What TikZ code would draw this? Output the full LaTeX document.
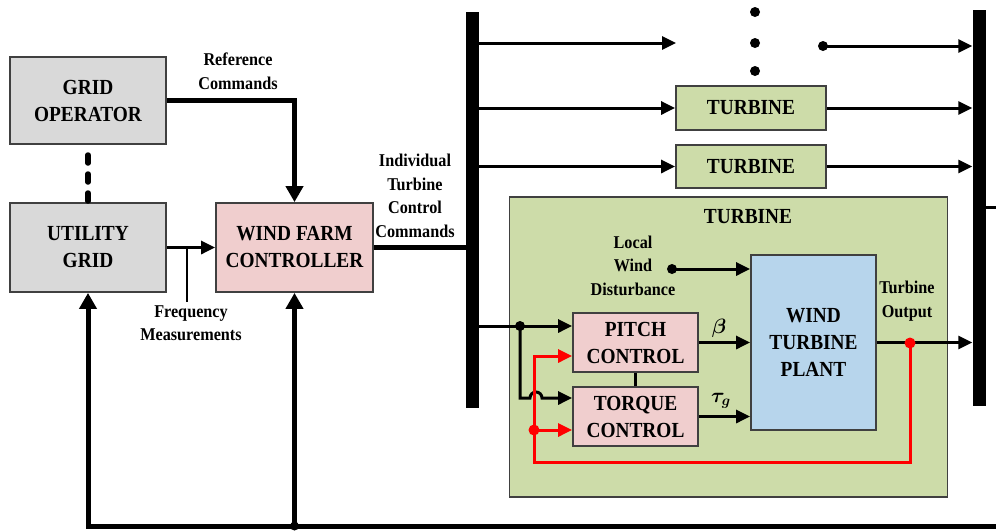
\documentclass[tikz,border=0pt]{standalone}
\usepackage{fontspec}
\setmainfont[FakeStretch=0.9]{Liberation Serif}
\usetikzlibrary{arrows.meta}

\definecolor{gridgray}{RGB}{217,217,217}
\definecolor{ctrlpink}{RGB}{240,206,206}
\definecolor{turbgreen}{RGB}{205,220,169}
\definecolor{plantblue}{RGB}{183,213,236}
\definecolor{fbred}{RGB}{255,0,0}

\begin{document}
\begin{tikzpicture}[x=1pt,y=-1pt,>={Triangle[length=14pt,width=13pt]}]
    \tikzstyle{block}=[draw=black!75,line width=1.8pt,align=center,inner sep=0pt,
        font=\bfseries\fontsize{21.5}{27}\selectfont]
    \tikzstyle{note}=[align=center,inner sep=0pt,font=\bfseries\fontsize{18}{23.5}\selectfont]
    \tikzstyle{sig}=[line width=3pt,->]
    \tikzstyle{bigsig}=[line width=5pt,-{Triangle[length=16pt,width=17pt]}]
    \tikzstyle{redsig}=[fbred,line width=3pt,->]
    \tikzstyle{bus}=[fill=black,inner sep=0pt,minimum width=13pt,minimum height=396pt]

    \useasboundingbox (0,0) rectangle (996,531);

    % grid side
    \node[block,fill=gridgray,minimum width=156pt,minimum height=87pt] (gridop) at (88,100.5) {GRID\\OPERATOR};
    \node[block,fill=gridgray,minimum width=156pt,minimum height=89pt] (utility) at (88,247.5) {UTILITY\\GRID};
    \node[block,fill=ctrlpink,minimum width=157pt,minimum height=89pt] (wfc) at (294.5,247.5) {WIND FARM\\CONTROLLER};

    % the two buses
    \node[bus] (busL) at (472.5,210) {};
    \node[bus] (busR) at (979,207.5) {};

    % whole turbine
    \node[block,fill=turbgreen,minimum width=438pt,minimum height=300pt] (turb) at (728.5,347) {};
    \node[block,draw=none] (turbtitle) at (748,217) {TURBINE};
    \node[block,fill=turbgreen,minimum width=150pt,minimum height=44pt] (t1) at (751,108) {TURBINE};
    \node[block,fill=turbgreen,minimum width=150pt,minimum height=43pt] (t2) at (751,166.5) {TURBINE};

    \node[block,fill=plantblue,minimum width=125pt,minimum height=175pt] (plant) at (813.5,342.5) {WIND\\TURBINE\\PLANT};
    \node[block,fill=ctrlpink,minimum width=125pt,minimum height=59pt] (pitch) at (635.5,342.5) {PITCH\\CONTROL};
    \node[block,fill=ctrlpink,minimum width=125pt,minimum height=59pt] (torque) at (635.5,416.5) {TORQUE\\CONTROL};

    % labels
    \node[note] (refcmd) at (238,71) {Reference\\Commands};
    \node[note] (freq) at (191,323) {Frequency\\Measurements};
    \node[note] (indiv) at (415,196) {Individual\\Turbine\\Control\\Commands};
    \node[note] (wind) at (633,265.5) {Local\\Wind\\Disturbance};
    \node[note] (tout) at (907,301) {Turbine\\Output};
    \node[font=\fontsize{21}{23}\selectfont\boldmath] (beta) at (719,328) {$\beta$};
    \node[font=\fontsize{21}{23}\selectfont\boldmath] (tau) at (721,401) {$\tau_g$};

    \coordinate (ftap) at (187,302);
    \coordinate (dtop) at (88,155);
    \coordinate (fbR) at (996,526);
    \coordinate (busout) at (996,207);
    \coordinate (gapL) at (676,43);
    \coordinate (gapR) at (823,46);
    \coordinate (wdot) at (672,269);
    \coordinate (split) at (520,326);
    \coordinate (tqin) at (520,398);
    \coordinate (hop) at (530,398);
    \coordinate (fbdot) at (910,343);
    \coordinate (rcorner) at (534,462);
    \coordinate (rpitch) at (534,356);
    \coordinate (rdot) at (534,430);

    % farm level signals
    \draw[bigsig] (gridop.east) -| (wfc.north);
    \draw[sig] (utility.east) -- (wfc.west);
    \draw[line width=1.5pt] (utility.east -| ftap) -- (ftap);
    \draw[line width=5.5pt,line cap=round,dash pattern=on 8pt off 11pt] (dtop) -- (utility.north);
    \draw[line width=5pt] (wfc.east) -- (wfc.east -| busL.west);
    \draw[bigsig] (fbR) -| (utility.south);
    \draw[bigsig] (wfc.south |- fbR) -- (wfc.south);
    \fill (wfc.south |- fbR) circle (4.5pt);
    \draw[line width=3pt] (busR.east |- busout) -- (busout);

    % turbine rows
    \draw[sig] (busL.east |- gapL) -- (gapL);
    \foreach \y in {12,43,71}
        \fill (755,\y) circle (5pt);
    \fill (gapR) circle (5pt);
    \draw[sig] (gapR) -- (gapR -| busR.west);
    \foreach \t in {t1,t2} {
        \draw[sig] (busL.east |- \t.west) -- (\t.west);
        \draw[sig] (\t.east) -- (\t.east -| busR.west);
    }

    % inside the turbine
    \fill (wdot) circle (5pt);
    \draw[sig] (wdot) -- (wdot -| plant.west);
    \draw[sig] (busL.east |- split) -- (split -| pitch.west);
    \fill (split) circle (5pt);
    \draw[sig] (split) -- (tqin) -- (hop) arc[start angle=180,end angle=360,radius=6] -- (hop -| torque.west);
    \draw[line width=2.5pt] (pitch.south) -- (torque.north);
    \draw[sig] (pitch.east) -- (pitch.east -| plant.west);
    \draw[sig] (torque.east) -- (torque.east -| plant.west);
    \draw[sig] (plant.east) -- (plant.east -| busR.west);

    % feedback
    \draw[redsig] (fbdot) |- (rcorner) -- (rpitch) -- (rpitch -| pitch.west);
    \draw[redsig] (rdot) -- (rdot -| torque.west);
    \fill[fbred] (rdot) circle (5.5pt);
    \fill[fbred] (fbdot) circle (5.5pt);
\end{tikzpicture}
\end{document}
